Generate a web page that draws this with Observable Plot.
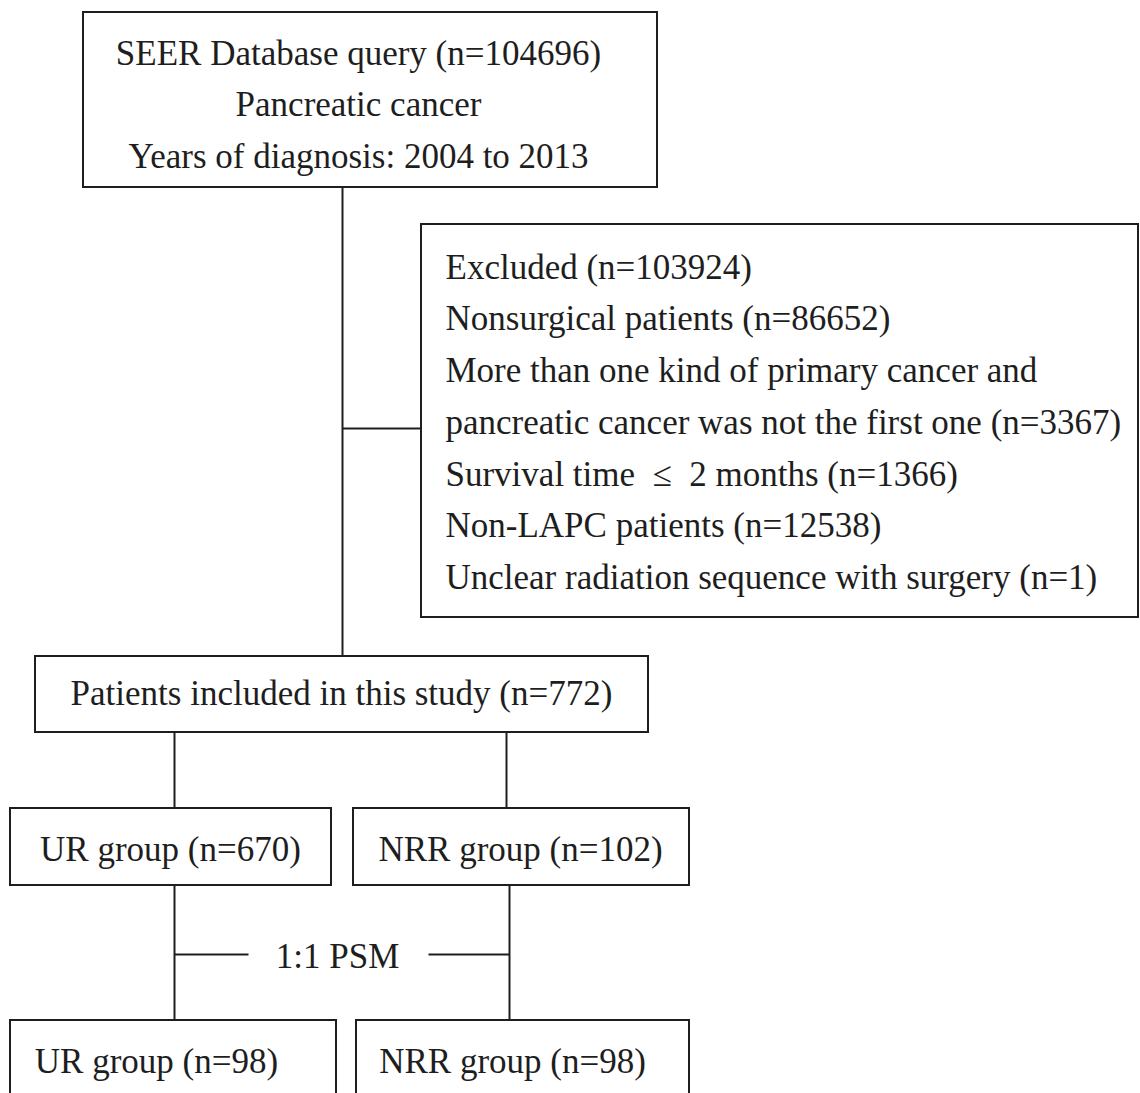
<!DOCTYPE html>
<html>
<head>
<meta charset="utf-8">
<script src="https://cdn.jsdelivr.net/npm/d3@7"></script>
<script src="https://cdn.jsdelivr.net/npm/@observablehq/plot@0.6"></script>
<style>
  html, body { margin: 0; padding: 0; background: #fff; overflow: hidden; }
</style>
</head>
<body>
<div id="chart"></div>
<script>
// Box labels (text content)
const boxIds = ["seer", "excluded", "included", "ur1", "nrr1", "ur2", "nrr2"];
const seerLines = ["SEER Database query (n=104696)", "Pancreatic cancer", "Years of diagnosis: 2004 to 2013"];
const excludedLines = [
  "Excluded (n=103924)",
  "Nonsurgical patients (n=86652)",
  "More than one kind of primary cancer and",
  "pancreatic cancer was not the first one (n=3367)",
  "Survival time  \u2264  2 months (n=1366)",
  "Non-LAPC patients (n=12538)",
  "Unclear radiation sequence with surgery (n=1)"
];
const includedLines = ["Patients included in this study (n=772)"];
const groupLabels = ["UR group (n=670)", "NRR group (n=102)"];
const matchedLabels = ["UR group (n=98)", "NRR group (n=98)"];
const psmLabel = ["1:1 PSM"];

// Layout (pixel frame of the flowchart)
const boxX1 = [83, 421, 35, 10, 353, 10, 356];
const boxX2 = [657, 1138, 648, 331, 689, 336, 689];
const boxY1 = [12, 224, 656, 808, 808, 1020, 1020];
const boxY2 = [187, 617, 732, 885, 885, 1110, 1110];

const linkX1 = [342, 342, 174, 506, 174, 509, 174, 428];
const linkY1 = [187, 428, 732, 732, 885, 885, 954, 954];
const linkX2 = [342, 421, 174, 506, 174, 509, 248, 509];
const linkY2 = [656, 428, 808, 808, 1020, 1020, 954, 954];

const boxes = boxIds.map((id, i) => ({id, x1: boxX1[i], x2: boxX2[i], y1: boxY1[i], y2: boxY2[i]}));
const links = linkX1.map((_, i) => ({x1: linkX1[i], y1: linkY1[i], x2: linkX2[i], y2: linkY2[i]}));

const centered = [];
seerLines.forEach((t, i) => centered.push({text: t, x: 358, y: 53 + i * 51.5}));
includedLines.forEach((t) => centered.push({text: t, x: 341, y: 693}));
groupLabels.forEach((t, i) => centered.push({text: t, x: [170, 520][i], y: 849}));
matchedLabels.forEach((t, i) => centered.push({text: t, x: [156, 512][i], y: 1061}));
psmLabel.forEach((t) => centered.push({text: t, x: 337, y: 956}));

const leftText = excludedLines.map((t, i) => ({text: t, x: 445, y: 267 + i * 51.7}));

const font = "'Liberation Serif', 'Times New Roman', serif";
const fs = 35;
const ink = "#1e1e1e";

const chart = Plot.plot({
  width: 1140,
  height: 1093,
  margin: 0,
  x: {domain: [0, 1140], axis: null},
  y: {domain: [0, 1093], reverse: true, axis: null},
  marks: [
    Plot.link(links, {x1: "x1", y1: "y1", x2: "x2", y2: "y2", stroke: ink, strokeWidth: 2}),
    Plot.rect(boxes, {x1: "x1", x2: "x2", y1: "y1", y2: "y2", fill: "white", stroke: ink, strokeWidth: 2}),
    Plot.text(centered, {x: "x", y: "y", text: "text", textAnchor: "middle", fontSize: fs, fontFamily: font, fill: ink}),
    Plot.text(leftText, {x: "x", y: "y", text: "text", textAnchor: "start", fontSize: fs, fontFamily: font, fill: ink})
  ]
});
document.getElementById("chart").appendChild(chart);
</script>
</body>
</html>
